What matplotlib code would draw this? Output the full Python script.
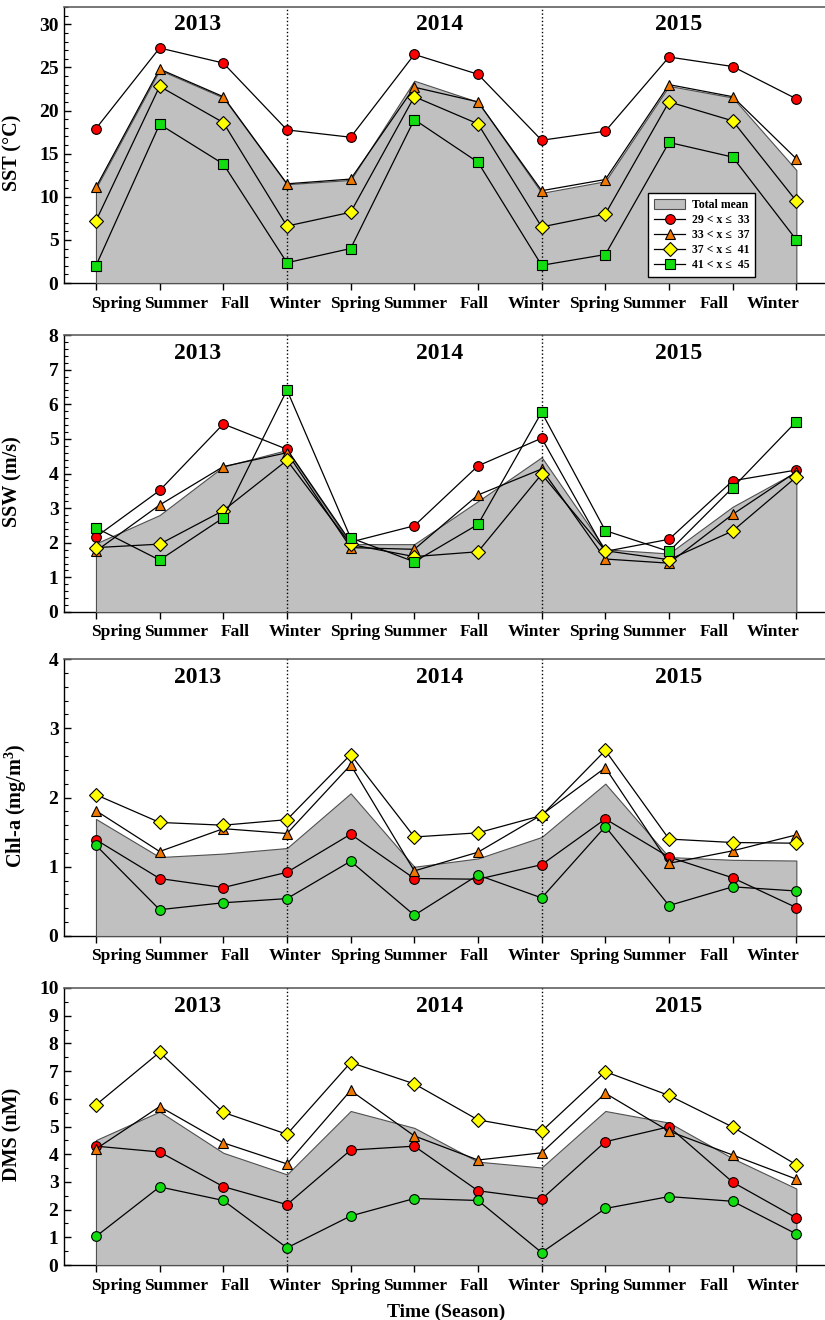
import numpy as np
import matplotlib
matplotlib.use("Agg")
import matplotlib.pyplot as plt
from matplotlib.ticker import MultipleLocator, FixedLocator
import matplotlib.transforms as mtransforms

plt.rcParams["font.family"] = ["Liberation Serif", "DejaVu Serif"]
plt.rcParams["font.weight"] = "bold"
plt.rcParams["mathtext.fontset"] = "custom"
plt.rcParams["mathtext.rm"] = "Liberation Serif:bold"
plt.rcParams["mathtext.bf"] = "Liberation Serif:bold"

seasons = ["Spring", "Summer", "Fall", "Winter"] * 3
years = ["2013", "2014", "2015"]
year_x = [1.6, 5.4, 9.15]
legend_labels = ["29 < x \u2264  33", "33 < x \u2264  37", "37 < x \u2264  41", "41 < x \u2264  45"]

# SST (degC)
sst_mean = [11.0, 24.7, 21.5, 11.45, 11.95, 23.45, 21.0, 10.45, 11.8, 22.85, 21.5, 13.1]
sst_29_33 = [17.9, 27.25, 25.5, 17.75, 16.9, 26.5, 24.2, 16.55, 17.6, 26.2, 25.1, 21.35]
sst_33_37 = [11.1, 24.8, 21.6, 11.5, 12.05, 22.7, 21.0, 10.7, 12.0, 23.0, 21.6, 14.4]
sst_37_41 = [7.2, 22.8, 18.6, 6.6, 8.2, 21.6, 18.45, 6.5, 8.0, 21.0, 18.8, 9.5]
sst_41_45 = [2.0, 18.4, 13.8, 2.35, 4.0, 18.95, 14.0, 2.05, 3.3, 16.3, 14.6, 5.0]

# SSW (m/s)
ssw_mean = [1.98, 2.8, 4.2, 4.68, 1.96, 1.96, 3.2, 4.47, 1.81, 1.69, 3.04, 4.05]
ssw_29_33 = [2.17, 3.51, 5.43, 4.7, 2.02, 2.49, 4.22, 5.02, 1.75, 2.1, 3.79, 4.1]
ssw_33_37 = [1.76, 3.09, 4.2, 4.6, 1.86, 1.81, 3.38, 4.13, 1.53, 1.41, 2.82, 4.05]
ssw_37_41 = [1.86, 1.96, 2.93, 4.38, 1.95, 1.6, 1.74, 3.98, 1.77, 1.51, 2.34, 3.9]
ssw_41_45 = [2.43, 1.5, 2.72, 6.41, 2.14, 1.45, 2.53, 5.77, 2.35, 1.75, 3.59, 5.5]

# Chl-a (mg/m3)
chl_mean = [1.69, 1.14, 1.19, 1.27, 2.06, 1.0, 1.12, 1.43, 2.2, 1.14, 1.1, 1.09]
chl_29_33 = [1.39, 0.83, 0.7, 0.92, 1.47, 0.83, 0.82, 1.03, 1.69, 1.14, 0.84, 0.41]
chl_33_37 = [1.81, 1.22, 1.55, 1.48, 2.47, 0.94, 1.21, 1.75, 2.43, 1.05, 1.23, 1.46]
chl_37_41 = [2.04, 1.64, 1.6, 1.68, 2.62, 1.43, 1.49, 1.74, 2.68, 1.4, 1.35, 1.34]
chl_41_45 = [1.31, 0.38, 0.48, 0.54, 1.08, 0.3, 0.88, 0.55, 1.58, 0.44, 0.71, 0.65]

# DMS (nM)
dms_mean = [4.51, 5.54, 4.05, 3.27, 5.56, 4.95, 3.73, 3.52, 5.56, 5.14, 3.85, 2.76]
dms_29_33 = [4.29, 4.08, 2.83, 2.18, 4.15, 4.29, 2.68, 2.38, 4.45, 4.99, 2.99, 1.7]
dms_33_37 = [4.19, 5.72, 4.41, 3.65, 6.3, 4.66, 3.79, 4.05, 6.2, 4.83, 3.97, 3.1]
dms_37_41 = [5.78, 7.68, 5.51, 4.72, 7.31, 6.54, 5.24, 4.83, 6.98, 6.12, 4.98, 3.62]
dms_41_45 = [1.03, 2.82, 2.33, 0.62, 1.77, 2.4, 2.33, 0.45, 2.04, 2.47, 2.3, 1.12]

RED, ORANGE, YELLOW, GREEN = "#ff0000", "#f07800", "#ffff00", "#11dd11"
FILL = "#c0c0c0"

panels = [
    dict(ylabel="SST (\u00b0C)", ymax=32, major=5, minor=1, mean=sst_mean,
         series=[sst_29_33, sst_33_37, sst_37_41, sst_41_45],
         markers=[("o", RED), ("^", ORANGE), ("D", YELLOW), ("s", GREEN)],
         legend=True, label_x=-0.054),
    dict(ylabel="SSW (m/s)", ymax=8, major=1, minor=0.2, mean=ssw_mean,
         series=[ssw_29_33, ssw_33_37, ssw_37_41, ssw_41_45],
         markers=[("o", RED), ("^", ORANGE), ("D", YELLOW), ("s", GREEN)],
         legend=False, label_x=-0.054),
    dict(ylabel=r"Chl-a (mg/m$^{3}$)", ymax=4, major=1, minor=0.2, mean=chl_mean,
         series=[chl_29_33, chl_33_37, chl_37_41, chl_41_45],
         markers=[("o", RED), ("^", ORANGE), ("D", YELLOW), ("o", GREEN)],
         legend=False, label_x=-0.046),
    dict(ylabel="DMS (nM)", ymax=10, major=1, minor=0.5, mean=dms_mean,
         series=[dms_29_33, dms_33_37, dms_37_41, dms_41_45],
         markers=[("o", RED), ("^", ORANGE), ("D", YELLOW), ("o", GREEN)],
         legend=False, label_x=-0.054),
]

fig = plt.figure(figsize=(8.25, 13.2), dpi=100)
W, H = 825, 1320
# (top, bottom) of each axes in pixels
boxes = [(7, 283), (335, 612), (659, 936), (988, 1265)]
left_px = 64

x = np.arange(len(seasons))
# season labels in the original sit on a slightly narrower grid than the ticks
label_x = 0.314 + 0.939 * x

for p, (top, bot) in zip(panels, boxes):
    ax = fig.add_axes([left_px / W, 1 - bot / H, 1 - left_px / W, (bot - top) / H])
    ax.set_xlim(-0.502, 11.45)
    ax.set_ylim(0, p["ymax"])

    ax.fill_between(x, 0, p["mean"], facecolor=FILL, edgecolor="#505050",
                    linewidth=0.8, zorder=3, label="Total mean")
    for xv in (3, 7):
        ax.axvline(xv, color="black", linestyle=":", linewidth=1.0, zorder=4)

    handles = []
    for vals, (mk, col), lab in zip(p["series"], p["markers"], legend_labels):
        ms = 7.5 if mk == "^" else 7
        (h,) = ax.plot(x, vals, color="black", linewidth=0.9, marker=mk,
                       markersize=ms, markerfacecolor=col, markeredgecolor="black",
                       markeredgewidth=0.8, zorder=5, label=lab)
        handles.append(h)

    trans = mtransforms.blended_transform_factory(ax.transData, ax.transAxes)
    for yr, xv in zip(years, year_x):
        ax.text(xv, 0.935, yr, transform=trans, ha="center", va="center",
                fontsize=17, fontweight="bold")

    # y axis: inward ticks
    ax.set_yticks(np.arange(0, p["ymax"] + 0.01, p["major"]))
    ax.yaxis.set_minor_locator(MultipleLocator(p["minor"]))
    ax.tick_params(axis="y", which="major", direction="in", length=5, width=1,
                   labelsize=14, pad=4)
    ax.tick_params(axis="y", which="minor", direction="in", length=3, width=0.8)
    for t in ax.get_yticklabels():
        t.set_fontweight("bold")

    # x axis: tick marks at data positions, labels on their own grid
    ax.xaxis.set_minor_locator(FixedLocator(x))
    ax.set_xticks(label_x)
    ax.set_xticklabels(seasons, fontsize=12.5, fontweight="bold")
    ax.tick_params(axis="x", which="major", length=0, pad=9)
    ax.tick_params(axis="x", which="minor", direction="out", length=5, width=1)

    ax.set_ylabel(p["ylabel"], fontsize=14.5, fontweight="bold")
    ax.yaxis.set_label_coords(p["label_x"], 0.47)

    ax.spines["right"].set_visible(False)
    ax.spines["top"].set_color("#606060")
    ax.spines["top"].set_linewidth(1.2)
    ax.spines["left"].set_linewidth(1.0)
    ax.spines["bottom"].set_linewidth(1.0)
    ax.spines["bottom"].set_zorder(0.5)

    if p["legend"]:
        fill_h = ax.collections[0]
        leg = ax.legend([fill_h] + handles, ["Total mean"] + legend_labels,
                        loc="lower left", bbox_to_anchor=(0.760, 0.0),
                        prop={"family": "Liberation Serif", "weight": "bold", "size": 8.5},
                        frameon=True, fancybox=False, framealpha=1,
                        edgecolor="black", handlelength=2.6, handleheight=0.9,
                        labelspacing=0.25, borderpad=0.5, handletextpad=0.6)
        leg.get_frame().set_linewidth(1.0)
        leg.set_zorder(10)

    if p is panels[-1]:
        ax.set_xlabel("Time (Season)", fontsize=14, fontweight="bold")
        ax.xaxis.set_label_coords((446 - left_px) / (W - left_px), -0.14)

fig.savefig("out.png", dpi=100)
